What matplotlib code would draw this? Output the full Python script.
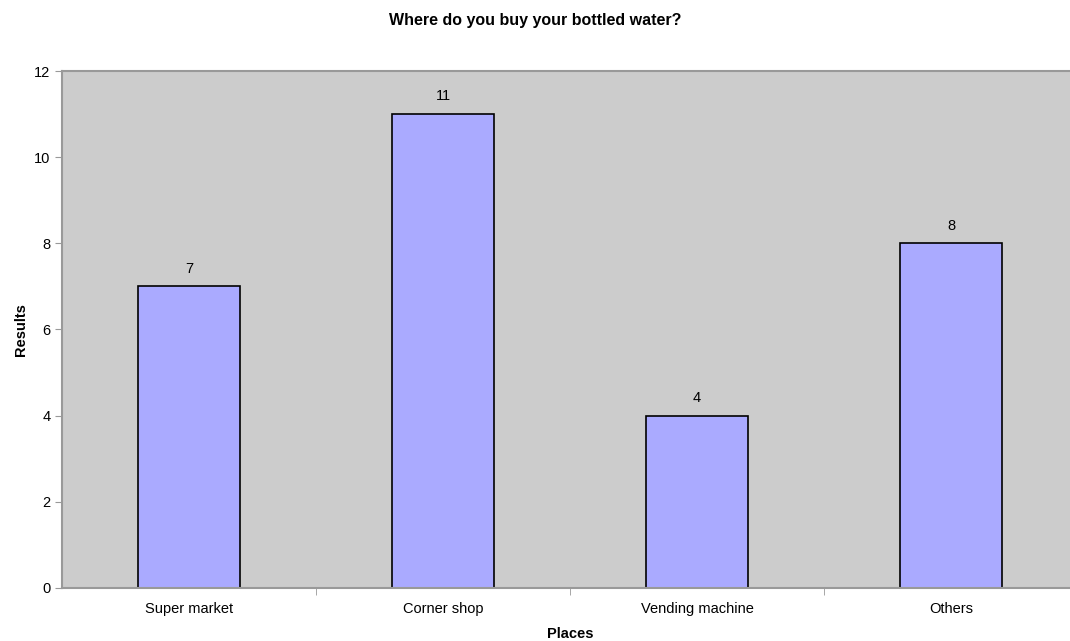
import matplotlib.pyplot as plt
import numpy as np

plt.rcParams['font.family'] = ['Liberation Sans', 'DejaVu Sans']

places = ['Super market', 'Corner shop', 'Vending machine', 'Others']
results = [7, 11, 4, 8]

fig = plt.figure(figsize=(10.7, 6.41), dpi=100)
# the plot area runs a little past the right edge of the picture
ax = fig.add_axes([0.058, 0.083, 0.9495, 0.806])
ax.set_facecolor('#CCCCCC')

x = np.arange(len(places))
bars = ax.bar(x, results, width=0.40, color='#AAAAFF', edgecolor='black', linewidth=1.2, zorder=2)
for b, v in zip(bars, results):
    ax.text(b.get_x() + b.get_width() / 2, v + 0.25, str(v), ha='center', va='bottom', fontsize=10.5)

ax.set_xlim(-0.5, len(places) - 0.5)
ax.set_ylim(0, 12)
ax.set_yticks(range(0, 13, 2))
ax.set_xticks(x)
ax.set_xticklabels(places, fontsize=10.5)
ax.set_xticks(np.arange(0.5, len(places) - 0.5, 1), minor=True)
ax.tick_params(axis='x', which='major', length=0, pad=10)
ax.tick_params(axis='x', which='minor', length=5, color='#999999')
ax.tick_params(axis='y', length=5, color='#999999', labelsize=10.5)

for s in ['left', 'bottom', 'top']:
    ax.spines[s].set_color('#999999')
    ax.spines[s].set_linewidth(1.5)
ax.spines['right'].set_visible(False)

ax.set_xlabel('Places', fontsize=10.5, fontweight='bold', labelpad=8)
ax.set_ylabel('Results', fontsize=10.5, fontweight='bold', labelpad=4)
fig.suptitle('Where do you buy your bottled water?', fontsize=11.5, fontweight='bold', y=0.98)

fig.savefig('out.png', dpi=100)
